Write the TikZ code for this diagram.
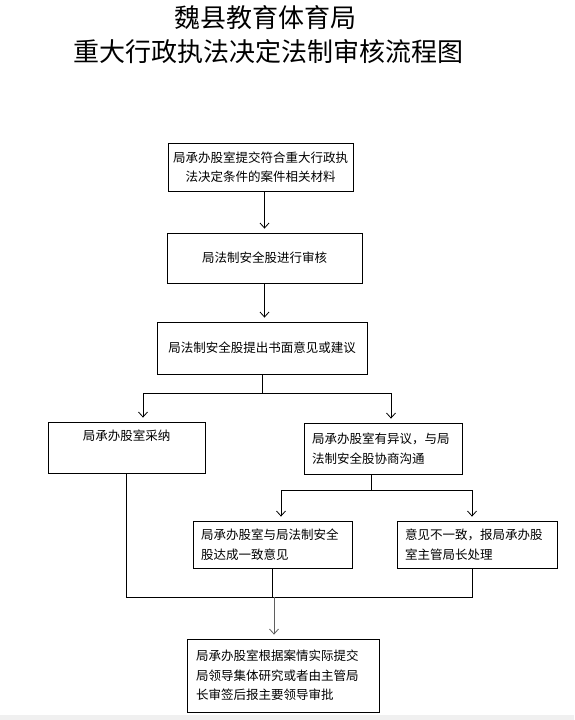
\documentclass[tikz,border=0pt]{standalone}
\usepackage{fontspec}
\setmainfont{Noto Sans CJK SC}
\usepackage{tikz}
\usetikzlibrary{arrows.meta,calc,positioning}
\definecolor{flowgray}{RGB}{95,95,95}
\definecolor{stripgray}{RGB}{240,240,240}
\newcommand{\tytul}{\fontsize{26}{34}\selectfont}
\newcommand{\tekst}{\fontsize{12.5}{19.5}\selectfont}

\begin{document}
\begin{tikzpicture}[x=1pt,y=-1pt,>={Straight Barb[length=5pt,width=9pt]},
  box/.style={draw,line width=.8pt,inner xsep=8pt,inner ysep=0pt,font=\tekst},
  arr/.style={->,line width=.8pt,shorten >=4pt},
  lin/.style={line width=.8pt}]
\useasboundingbox (0,0) rectangle (574,720);
\fill[stripgray] (0,715) rectangle (574,720);
% tytuł
\node[font=\tytul] (t1) at (265,18) {魏县教育体育局};
\node[font=\tytul] (t2) at (268,52) {重大行政执法决定法制审核流程图};
% --- główna kolumna ---
\node[box,align=center,inner xsep=5pt,text width=175pt,minimum height=48pt]
  (b1) at (260.5,167) {局承办股室提交符合重大行政执\\法决定条件的案件相关材料};
\node[box,align=center,text width=179pt,minimum height=50pt]
  (b2) at (264.5,258) {局法制安全股进行审核};
\node[box,align=center,text width=194pt,minimum height=52pt]
  (b3) at (262,348) {局法制安全股提出书面意见或建议};
% --- pierwsze rozgałęzienie ---
\node[box,align=center,text width=141pt,minimum height=51pt]
  (b4) at (126.5,447.5) {局承办股室采纳\\\strut};
\node[box,align=left,text width=142pt,minimum height=51pt]
  (b5) at (383,448.5) {局承办股室有异议，与局\\法制安全股协商沟通};
% --- drugie rozgałęzienie ---
\node[box,align=left,text width=143pt,minimum height=47pt]
  (b6) at (272.5,544.5) {局承办股室与局法制安全\\股达成一致意见};
\node[box,align=left,text width=144pt,minimum height=47pt]
  (b7) at (477,544.5) {意见不一致，报局承办股\\室主管局长处理};
% wynik
\node[box,align=left,inner xsep=9pt,text width=174pt,minimum height=73pt]
  (b8) at (283,675.5) {局承办股室根据案情实际提交\\局领导集体研究或者由主管局\\长审签后报主要领导审批};
% punkty rozgałęzień
\coordinate (s1l) at (143,393);
\coordinate (s1r) at (391,393);
\coordinate (s2) at (371,490);
\coordinate (s2l) at (281,490);
\coordinate (s2r) at (472,490);
\coordinate (m) at (274,597);
% strzałki
\draw[arr] (b1.south -| b2) -- (b2.north);
\draw[arr] (b2.south) -- (b2.south |- b3.north);
\draw[lin] (b3.south) -- (b3.south |- s1l);
\draw[lin] (s1l) -- (s1r);
\draw[arr] (s1l) -- (s1l |- b4.north);
\draw[arr] (s1r) -- (s1r |- b5.north);
\draw[lin] (s2 |- b5.south) -- (s2);
\draw[lin] (s2l) -- (s2r);
\draw[arr] (s2l) -- (s2l |- b6.north);
\draw[arr] (s2r) -- (s2r |- b7.north);
% zbieganie do ostatniego kroku
\draw[lin] (b4.south) -- (b4.south |- m) -- (m -| s2r) -- (s2r |- b7.south);
\draw[lin] (b6.south) -- (b6.south |- m);
\draw[arr,flowgray] (m) -- (m |- b8.north);
\end{tikzpicture}
\end{document}
